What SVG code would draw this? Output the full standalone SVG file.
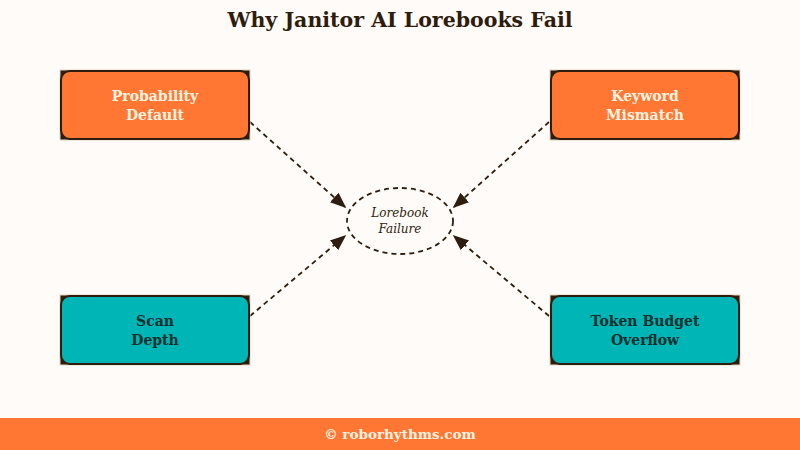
<svg xmlns="http://www.w3.org/2000/svg" width="800" height="450" viewBox="0 0 800 450">
<defs>
<style>
.t{font-family:"DejaVu Serif","Liberation Serif",serif;font-weight:bold;text-anchor:middle}
.frame{fill:#2e1d0e;stroke:#e6d3bd;stroke-width:1}
.or{fill:#ff7733;stroke:#2e1d0e;stroke-width:2}
.te{fill:#00b5b5;stroke:#2e1d0e;stroke-width:2}
.lo{fill:#fff3e0;font-size:14px}
.ld{fill:#10302e;font-size:14px}
.conn{stroke:#2e1d0e;stroke-width:1.8;stroke-dasharray:5,4;fill:none}
</style>
<marker id="ah2" viewBox="0 0 10 10" refX="9" refY="5" markerWidth="16" markerHeight="16" orient="auto" markerUnits="userSpaceOnUse">
<path d="M0,1 L10,5 L0,9 z" fill="#2e1d0e"/>
</marker>
</defs>
<rect width="800" height="450" fill="#fffbf8"/>
<text class="t" x="400" y="27" fill="#2e1d0e" style="font-size:20.5px">Why Janitor AI Lorebooks Fail</text>
<g id="connectors">
<line class="conn" x1="250" y1="122" x2="345" y2="207" marker-end="url(#ah2)"/>
<line class="conn" x1="549" y1="122" x2="454" y2="207" marker-end="url(#ah2)"/>
<line class="conn" x1="250" y1="316" x2="345" y2="236" marker-end="url(#ah2)"/>
<line class="conn" x1="549" y1="316" x2="454" y2="236" marker-end="url(#ah2)"/>
</g>
<g id="probability-default">
<rect class="frame" x="60" y="70" width="190" height="70"/>
<rect class="or" x="61" y="71" width="188" height="68" rx="9"/>
<text class="t lo" x="155" y="101">Probability</text>
<text class="t lo" x="155" y="120">Default</text>
</g>
<g id="keyword-mismatch">
<rect class="frame" x="550" y="70" width="190" height="70"/>
<rect class="or" x="551" y="71" width="188" height="68" rx="9"/>
<text class="t lo" x="645" y="101">Keyword</text>
<text class="t lo" x="645" y="120">Mismatch</text>
</g>
<g id="scan-depth">
<rect class="frame" x="60" y="295" width="190" height="70"/>
<rect class="te" x="61" y="296" width="188" height="68" rx="9"/>
<text class="t ld" x="155" y="326">Scan</text>
<text class="t ld" x="155" y="345">Depth</text>
</g>
<g id="token-budget-overflow">
<rect class="frame" x="550" y="295" width="190" height="70"/>
<rect class="te" x="551" y="296" width="188" height="68" rx="9"/>
<text class="t ld" x="645" y="326">Token Budget</text>
<text class="t ld" x="645" y="345">Overflow</text>
</g>
<g id="lorebook-failure">
<ellipse cx="400" cy="221" rx="53" ry="33" fill="#fffbf8" stroke="#2e1d0e" stroke-width="1.8" stroke-dasharray="5,4"/>
<text x="400" y="217" font-family="DejaVu Serif,serif" font-style="italic" font-size="12" fill="#2e1d0e" text-anchor="middle">Lorebook</text>
<text x="400" y="233" font-family="DejaVu Serif,serif" font-style="italic" font-size="12" fill="#2e1d0e" text-anchor="middle">Failure</text>
</g>
<rect x="0" y="418" width="800" height="32" fill="#ff7733"/>
<text class="t" x="400" y="439" fill="#fff3e0" style="font-size:13.5px">© roborhythms.com</text>
</svg>
